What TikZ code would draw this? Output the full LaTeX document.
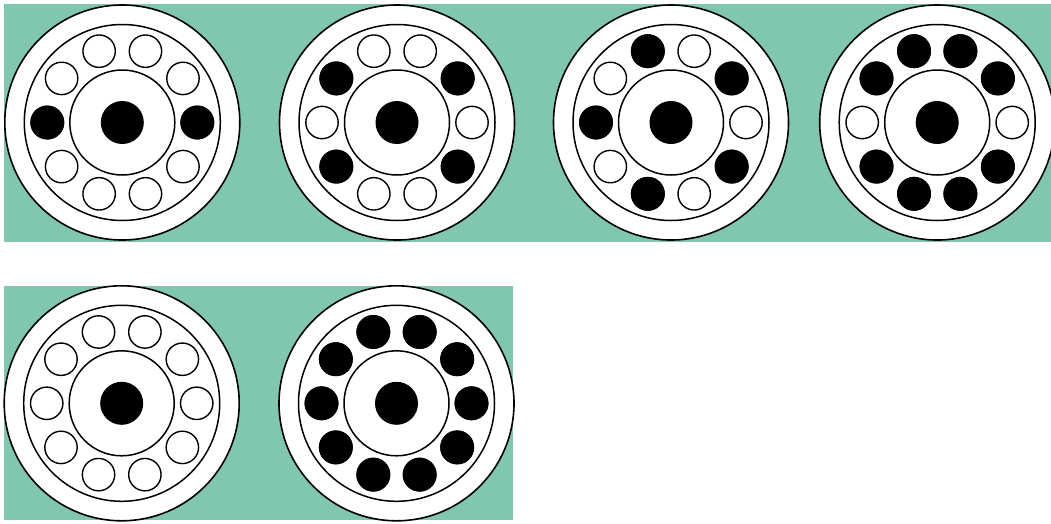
\documentclass[tikz,border=0pt]{standalone}
\definecolor{bandgreen}{RGB}{129,198,174}
\tikzset{
  rim/.style={draw=black,line width=1.6pt,fill=white},
  track/.style={draw=black,line width=1.5pt},
  hole/.style={draw=black,line width=1.4pt,fill=white},
  filledhole/.style={fill=black},
  hub/.style={fill=black},
}
\newcommand\wheelbase[2]{%
  \draw[rim] (#1,#2) circle[radius=117.5];
  \draw[track] (#1,#2) circle[radius=98];
  \draw[track] (#1,#2) circle[radius=52.5];
  \fill[hub] (#1,#2) circle[radius=21.5];
  \foreach \a in {0,36,...,324} \draw[hole] ([shift={(\a:75)}]#1,#2) circle[radius=16.2];
}
\newcommand\wheelfill[3]{%
  \foreach \a in {#3} \fill[filledhole] ([shift={(\a:75)}]#1,#2) circle[radius=17];
}
\begin{document}
\begin{tikzpicture}[x=1pt,y=-1pt]
\useasboundingbox (0,0) rectangle (1051,523);
\clip (0,0) rectangle (1051,523);
\fill[bandgreen] (4,4) rectangle (1051,242);
\fill[bandgreen] (4,286) rectangle (513,520);
% top row
\wheelbase{122.3}{122.5}
\wheelfill{122.3}{122.5}{0,180}
\wheelbase{397}{122.5}
\wheelfill{397}{122.5}{36,144,216,324}
\wheelbase{671}{122.5}
\wheelfill{671}{122.5}{36,108,180,252,324}
\wheelbase{937.2}{122.5}
\wheelfill{937.2}{122.5}{36,72,108,144,216,252,288,324}
% bottom row
\wheelbase{121.7}{403.3}
\wheelbase{396.5}{403.3}
\wheelfill{396.5}{403.3}{0,36,72,108,144,180,216,252,288,324}
\end{tikzpicture}
\end{document}
